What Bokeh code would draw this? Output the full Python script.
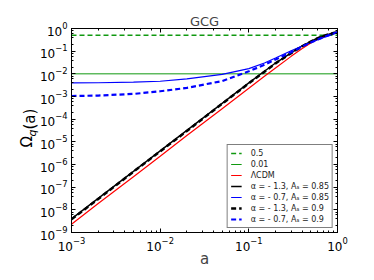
import math
from bokeh.plotting import figure
from bokeh.models import LogAxis, LogTicker, Legend, LegendItem, Label, Range1d, CustomJSTickFormatter
from bokeh.embed import file_html
from bokeh.resources import INLINE

# ---- data ----
a_vals = [0.001, 0.002, 0.005, 0.01, 0.02, 0.05, 0.1, 0.15, 0.2, 0.3, 0.4, 0.5, 0.6, 0.7, 0.8, 0.9, 1.0]
lcdm = [2.3e-9, 1.9e-8, 2.9e-7, 2.3e-6, 1.9e-5, 2.9e-4, 2.3e-3, 7.8e-3, 0.018, 0.059, 0.13, 0.23, 0.335, 0.44, 0.54, 0.63, 0.70]
black_solid = [4.0e-9, 3.2e-8, 5.0e-7, 4.0e-6, 3.2e-5, 5.0e-4, 4.0e-3, 0.013, 0.030, 0.085, 0.17, 0.27, 0.38, 0.48, 0.56, 0.63, 0.70]
blue_solid = [4.0e-3, 4.05e-3, 4.3e-3, 4.7e-3, 6.0e-3, 9.5e-3, 0.017, 0.030, 0.050, 0.105, 0.17, 0.24, 0.32, 0.40, 0.48, 0.58, 0.68]
black_dash = [3.8e-9, 3.0e-8, 4.8e-7, 3.8e-6, 3.0e-5, 4.8e-4, 3.8e-3, 0.0125, 0.029, 0.082, 0.165, 0.265, 0.375, 0.475, 0.555, 0.63, 0.70]
blue_dash = [1.05e-3, 1.1e-3, 1.3e-3, 1.7e-3, 2.4e-3, 4.8e-3, 0.013, 0.025, 0.043, 0.090, 0.16, 0.24, 0.33, 0.42, 0.51, 0.60, 0.69]
ref_levels = [0.5, 0.01]
legend_labels = ["0.5", "0.01", "ΛCDM",
                 "α = - 1.3, Aₛ = 0.85", "α = - 0.7, Aₛ = 0.85",
                 "α = - 1.3, Aₛ = 0.9", "α = - 0.7, Aₛ = 0.9"]

FONT = "DejaVu Sans"

p = figure(x_axis_type="log", y_axis_type="log",
           frame_width=266, frame_height=204,
           min_border_left=71, min_border_right=30, min_border_top=28, min_border_bottom=44,
           x_range=Range1d(1e-3, 1), y_range=Range1d(1e-9, 1),
           output_backend="svg", toolbar_location=None,
           title="GCG")
p.title.align = "center"
p.title.text_font = FONT
p.title.text_font_style = "normal"
p.title.text_font_size = "13px"
p.title.standoff = 0
p.grid.visible = False
p.outline_line_color = "black"
p.background_fill_color = "white"
p.border_fill_color = "white"

p.yaxis.ticker = LogTicker(desired_num_ticks=10)
for ax in [p.xaxis[0], p.yaxis[0]]:
    ax.major_tick_in = 4
    ax.major_tick_out = 0
    ax.minor_tick_in = 2
    ax.minor_tick_out = 0
    ax.major_label_text_font = FONT
    ax.major_label_text_font_size = "12px"
    ax.major_label_text_color = "black"
    ax.axis_line_color = "black"
    ax.major_label_standoff = 4
p.xaxis.axis_label = "a"
p.xaxis.axis_label_text_font = FONT
p.xaxis.axis_label_text_font_style = "normal"
p.xaxis.axis_label_text_font_size = "15px"
p.xaxis.axis_label_standoff = -4

for side in ["right", "above"]:
    ax = LogAxis(ticker=LogTicker(desired_num_ticks=10) if side == "right" else LogTicker(),
                 formatter=CustomJSTickFormatter(code="return ''"))
    ax.major_label_text_font_size = "1px"
    ax.major_label_standoff = 0
    ax.major_tick_in = 4
    ax.major_tick_out = 0
    ax.minor_tick_in = 2
    ax.minor_tick_out = 0
    p.add_layout(ax, side)

x_ends = [a_vals[0], a_vals[-1]]
g1 = p.line(x_ends, [ref_levels[0]] * 2, line_color="#109910", line_width=1.5, line_dash="5 3")
g2 = p.line(x_ends, [ref_levels[1]] * 2, line_color="#109910", line_width=1)
r1 = p.line(a_vals, lcdm, line_color="#ff0000", line_width=1.2)
k1 = p.line(a_vals, black_solid, line_color="black", line_width=1.5)
b1 = p.line(a_vals, blue_solid, line_color="#0000ff", line_width=1.2)
k2 = p.line(a_vals, black_dash, line_color="black", line_width=2.5, line_dash="5 3")
b2 = p.line(a_vals, blue_dash, line_color="#0000ff", line_width=2.2, line_dash="5 3")

items = [LegendItem(label=l, renderers=[r]) for l, r in zip(legend_labels, [g1, g2, r1, k1, b1, k2, b2])]
leg = Legend(items=items, location="bottom_right")
leg.label_text_font = FONT
leg.label_text_font_size = "8px"
leg.label_text_color = "#222222"
leg.glyph_width = 11
leg.glyph_height = 10
leg.label_height = 10
leg.label_standoff = 9
leg.spacing = 1
leg.padding = 3
leg.margin = 4
leg.border_line_color = "black"
leg.border_line_width = 1
leg.background_fill_alpha = 1
p.add_layout(leg)

# y-axis label: Omega with subscript q, then (a); placed in side panels so it is not clipped
ys = 85
p.add_layout(Label(x=8, y=ys, x_units="screen", y_units="screen", text="Ω", angle=math.pi / 2,
                   text_font=FONT, text_font_size="15px", text_color="black",
                   text_baseline="alphabetic", text_align="left"), "left")
p.add_layout(Label(x=-305, y=ys + 11, x_units="screen", y_units="screen", text="q", angle=math.pi / 2,
                   text_font=FONT, text_font_size="11px", text_font_style="italic", text_color="black",
                   text_baseline="alphabetic", text_align="left"), "right")
p.add_layout(Label(x=-321, y=ys + 18, x_units="screen", y_units="screen", text="(a)", angle=math.pi / 2,
                   text_font=FONT, text_font_size="15px", text_color="black",
                   text_baseline="alphabetic", text_align="left"), "right")

open("out.html", "w").write(file_html(p, INLINE))
